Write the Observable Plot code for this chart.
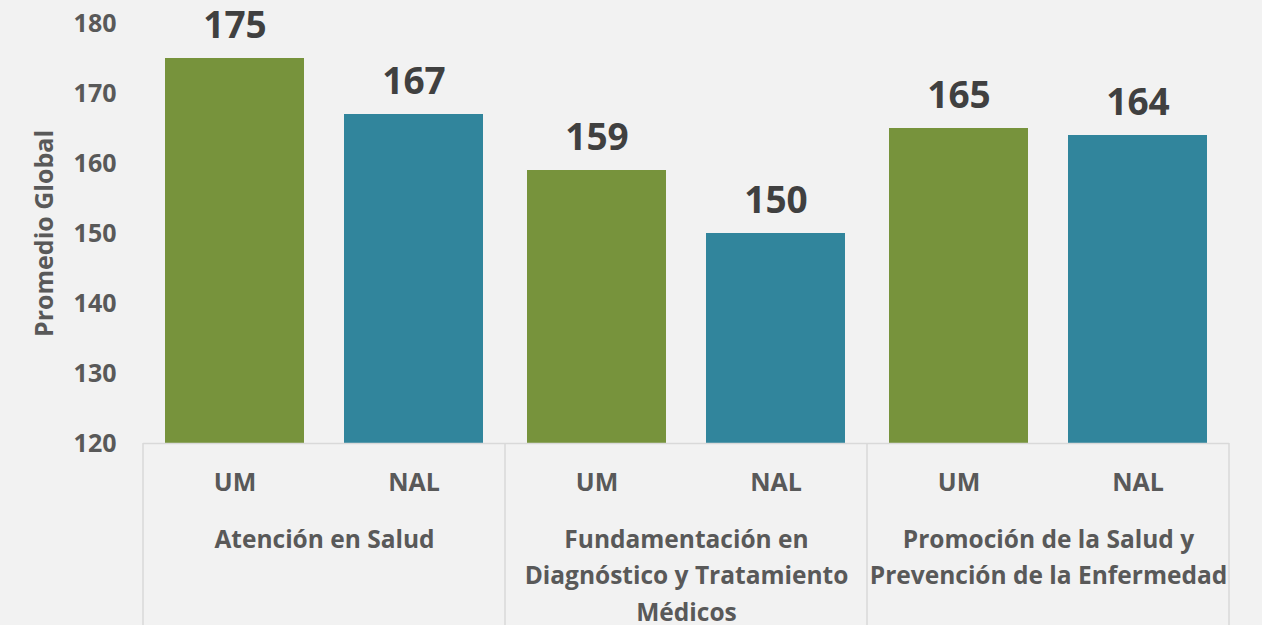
<!DOCTYPE html>
<html>
<head>
<meta charset="utf-8">
<script src="https://cdn.jsdelivr.net/npm/d3@7"></script>
<script src="https://cdn.jsdelivr.net/npm/@observablehq/plot@0.6"></script>
<style>
  html, body { margin: 0; padding: 0; background: #f2f2f2; }
</style>
</head>
<body>
<div id="chart"></div>
<script>
const groups = [
  "Atención en Salud",
  "Fundamentación en\nDiagnóstico y Tratamiento\nMédicos",
  "Promoción de la Salud y\nPrevención de la Enfermedad"
];
const series = ["UM", "NAL"];
const umValues = [175, 159, 165];
const nalValues = [167, 150, 164];
const yTicks = [120, 130, 140, 150, 160, 170, 180];
const yDomain = [120, 180];
const colors = ["#77933c", "#31859c"];

const data = groups.flatMap((g, i) => [
  {group: g, series: "UM", value: umValues[i]},
  {group: g, series: "NAL", value: nalValues[i]}
]);

const W = 1262, H = 625;
const plot = Plot.plot({
  width: W,
  height: H,
  marginTop: 23,
  marginBottom: 182,
  marginLeft: 143,
  marginRight: 33,
  style: {background: "#f2f2f2", fontFamily: "'Open Sans', sans-serif", fontWeight: "bold", color: "#595959"},
  y: {domain: yDomain, clamp: true},
  fx: {domain: groups, paddingInner: 0, paddingOuter: 0, axis: null, label: null},
  x: {domain: series, paddingInner: 0.222, paddingOuter: 0.117, axis: null, label: null},
  color: {domain: series, range: colors},
  marks: [
    Plot.barY(data, {fx: "group", x: "series", y1: 0, y2: "value", fill: "series"}),
    Plot.ruleY([yDomain[0]], {stroke: "#d9d9d9", strokeWidth: 1.5}),
    Plot.text(data, {fx: "group", x: "series", y: "value", text: d => String(d.value),
      lineAnchor: "bottom", dy: -21, fontSize: 37, fontWeight: "bold", fill: "#404040"}),
    Plot.text(data, {fx: "group", x: "series", text: "series", frameAnchor: "bottom",
      lineAnchor: "top", dy: 30, fontSize: 25, fontWeight: "bold", fill: "#595959"}),
    Plot.text(groups, {fx: d => d, text: d => d, frameAnchor: "bottom",
      lineAnchor: "top", dy: 78, lineHeight: 1.5, fontSize: 24.5, fontWeight: "bold", fill: "#595959"}),
    Plot.axisY({ticks: yTicks, tickSize: 0, tickPadding: 27, fontSize: 25, fontWeight: "bold",
      fill: "#595959", label: "Promedio Global", labelAnchor: "center", labelArrow: "none", labelOffset: 108})
  ]
});

// separator lines of the category table, positioned from the plot's scales
const svg = d3.select(plot.tagName.toLowerCase() === "svg" ? plot : plot.querySelector("svg"));
const fx = plot.scale("fx");
const y = plot.scale("y");
const edges = groups.map(g => fx.apply(g)).concat([fx.apply(groups[groups.length - 1]) + fx.bandwidth]);
svg.append("g")
  .selectAll("line")
  .data(edges)
  .join("line")
  .attr("x1", d => d).attr("x2", d => d)
  .attr("y1", y.apply(yDomain[0])).attr("y2", H)
  .attr("stroke", "#d9d9d9").attr("stroke-width", 1.5);

document.getElementById("chart").appendChild(plot);
</script>
</body>
</html>
